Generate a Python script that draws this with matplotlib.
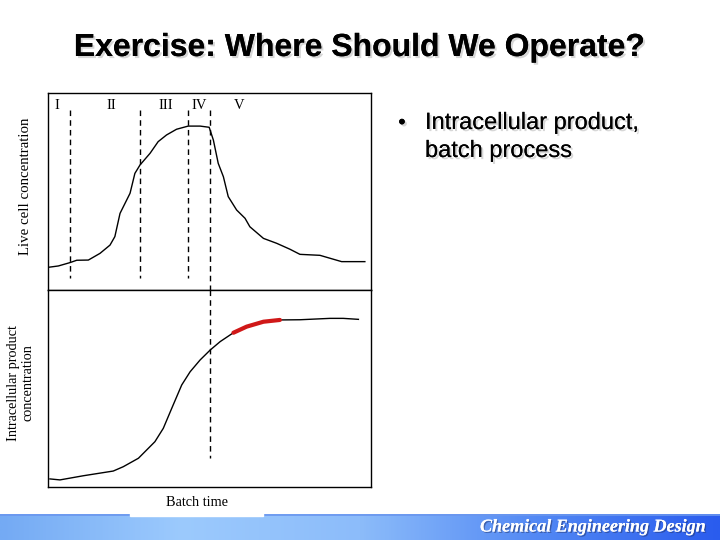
import numpy as np
import matplotlib.pyplot as plt
import matplotlib.patheffects as pe
from matplotlib.colors import LinearSegmentedColormap

# batch time (arbitrary units, 0-100) and concentrations (arbitrary units, 0-100)
cell_time = [0, 3.2, 6.8, 8.9, 12.5, 16.1, 19.2, 20.7, 22.3, 25.4, 26.9, 28.5, 31.6,
             34.1, 36.7, 39.8, 43.4, 47.1, 49.9, 51.2, 52.7, 54.3, 55.8, 58.4, 61.0,
             62.5, 66.7, 70.8, 74.9, 78.0, 84.2, 90.9, 98.1]
cell_conc = [11.5, 12.2, 13.9, 15.1, 15.2, 18.6, 22.8, 27.1, 38.9, 49.1, 59.2, 63.5, 69.4,
             75.3, 78.7, 81.6, 83.2, 83.2, 82.6, 76.1, 64.3, 57.5, 47.4, 40.6, 36.4,
             32.1, 26.2, 23.7, 20.7, 18.1, 17.6, 14.4, 14.4]

prod_time = [0.6, 3.7, 10.9, 20.2, 23.3, 28.0, 33.1, 35.7, 38.3, 41.4, 44.0, 47.1,
             50.2, 53.3, 57.4, 61.5, 66.7, 71.8, 78.0, 87.3, 91.4, 96.1]
prod_conc = [4.1, 3.6, 5.7, 8.1, 10.3, 14.6, 23.0, 29.8, 39.9, 51.8, 58.5, 64.5,
             69.5, 73.8, 78.3, 81.4, 83.9, 84.8, 84.9, 85.6, 85.6, 85.1]

# phase boundaries and labels
phase_bounds = [6.8, 28.5, 43.4, 50.2]
phase_labels = ["I", "II", "III", "IV", "V"]
phase_label_x = [2.8, 19.5, 36.5, 46.7, 59.1]

# suggested operating window (red)
op_start, op_end = 57.4, 71.8

fig = plt.figure(figsize=(7.2, 5.4), dpi=100)

# ---- slide background / footer ----
bg = fig.add_axes([0, 0, 1, 1], zorder=0)
bg.set_xlim(0, 720)
bg.set_ylim(540, 0)
bg.axis("off")
band = LinearSegmentedColormap.from_list(
    "band", ["#74aaf4", "#9ccafd", "#8cbcfa", "#5288f4", "#2a5cee"])
grad = np.tile(np.linspace(0, 1, 400), (20, 1))
bg.imshow(grad, cmap=band, aspect="auto", extent=[0, 720, 540, 514], zorder=1)
bg.plot([0, 720], [514.5, 514.5], color="#6a96ee", lw=1.2, zorder=2)
bg.add_patch(plt.Rectangle((130, 505), 133, 11, color="white", zorder=3))
bg.text(705, 527, "Chemical Engineering Design", ha="right", va="center",
        fontsize=13, color="white", family="Liberation Serif",
        weight="bold", style="italic", zorder=4,
        path_effects=[pe.withSimplePatchShadow(offset=(1, -1), shadow_rgbFace="#223366", alpha=0.5),
                      pe.Normal()])

shadow = [pe.withSimplePatchShadow(offset=(1.5, -1.5), shadow_rgbFace="#b0b0b0", alpha=0.5),
          pe.Normal()]
bg.text(360, 48, "Exercise: Where Should We Operate?", ha="center", va="center",
        fontsize=23, weight="bold", family="Liberation Sans", color="black",
        path_effects=shadow, zorder=4)

bg.text(402, 123, "\u2022", ha="center", va="center", fontsize=15,
        family="Liberation Sans", path_effects=shadow, zorder=4)
bg.text(425, 123, "Intracellular product,", ha="left", va="center", fontsize=17,
        family="Liberation Sans", path_effects=shadow, zorder=4)
bg.text(425, 151, "batch process", ha="left", va="center", fontsize=17,
        family="Liberation Sans", path_effects=shadow, zorder=4)

# ---- plot panels ----
ax1 = fig.add_axes([48 / 720, 250 / 540, 323 / 720, 197 / 540], zorder=2)
ax2 = fig.add_axes([48 / 720, 53 / 540, 323 / 720, 197 / 540], zorder=2)
for ax in (ax1, ax2):
    ax.set_xlim(0, 100)
    ax.set_ylim(0, 100)
    ax.set_xticks([])
    ax.set_yticks([])
    for s in ax.spines.values():
        s.set_linewidth(1.0)
        s.set_color("black")

ax1.plot(cell_time, cell_conc, color="black", lw=1.0)
for i, b in enumerate(phase_bounds):
    low = 0 if i == len(phase_bounds) - 1 else 6.1
    ax1.plot([b, b], [91.4, low], color="black", lw=1.0, ls=(0, (4, 3)))
for lx, lab in zip(phase_label_x, phase_labels):
    ax1.text(lx, 93.9, lab, ha="center", va="center", fontsize=10.5,
             family="Liberation Serif")

ax2.plot(prod_time, prod_conc, color="black", lw=1.0)
pt = np.array(prod_time)
pc = np.array(prod_conc)
mask = (pt >= op_start) & (pt <= op_end)
ax2.plot(pt[mask], pc[mask], color="#d01818", lw=3.0, solid_capstyle="round")
ax2.plot([phase_bounds[-1]] * 2, [100, 14.7], color="black", lw=1.0, ls=(0, (4, 3)))

fig.text(26 / 720, 1 - 186 / 540, "Live cell concentration", rotation=90,
         ha="center", va="center", fontsize=10.7, family="Liberation Serif")
fig.text(21 / 720, 1 - 383 / 540, "Intracellular product\nconcentration", rotation=90,
         ha="center", va="center", fontsize=10.3, family="Liberation Serif",
         linespacing=1.15)
fig.text(197 / 720, 1 - 503 / 540, "Batch time", ha="center", va="center",
         fontsize=10.3, family="Liberation Serif", zorder=5)

fig.savefig("out.png", dpi=100)
